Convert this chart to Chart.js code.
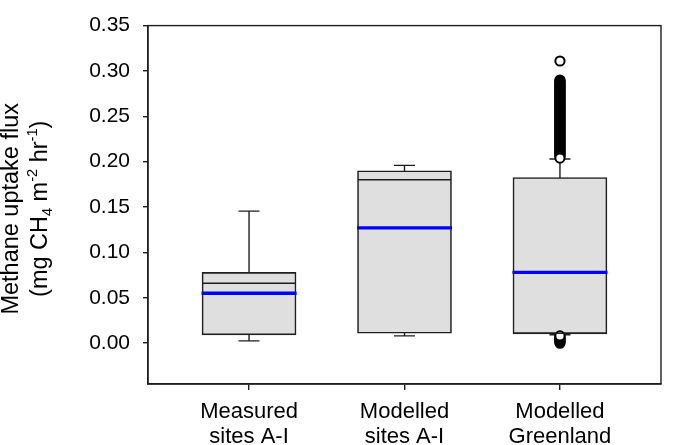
<!DOCTYPE html>
<html>
<head>
<meta charset="utf-8">
<script src="https://cdn.jsdelivr.net/npm/chart.js@4"></script>
<style>
  body { margin: 0; background: #fff; }
  canvas { display: block; }
</style>
</head>
<body>
<canvas id="chart" width="685" height="445"></canvas>
<script>
// Data
const categories = [['Measured', 'sites A-I'], ['Modelled', 'sites A-I'], ['Modelled', 'Greenland']]
const whiskerLow = [0.0025, 0.008, 0.0092]
const q1 = [0.0092, 0.011, 0.0103]
const median = [0.066, 0.180, 0.011]
const q3 = [0.078, 0.190, 0.1825]
const whiskerHigh = [0.1455, 0.196, 0.203]
const means = [0.055, 0.127, 0.078]
// outliers of the Greenland run (dense column above, short run below)
const outliersHigh = [0.311, 0.290, 0.289, 0.288, 0.287, 0.286, 0.285, 0.284, 0.283, 0.282, 0.281,
  0.280, 0.279, 0.278, 0.277, 0.276, 0.275, 0.274, 0.273, 0.272, 0.271, 0.270, 0.269, 0.268, 0.267,
  0.266, 0.265, 0.264, 0.263, 0.262, 0.261, 0.260, 0.259, 0.258, 0.257, 0.256, 0.255, 0.254, 0.253,
  0.252, 0.251, 0.250, 0.249, 0.248, 0.247, 0.246, 0.245, 0.244, 0.243, 0.242, 0.241, 0.240, 0.239,
  0.238, 0.237, 0.236, 0.235, 0.234, 0.233, 0.232, 0.231, 0.230, 0.229, 0.228, 0.227, 0.226, 0.225,
  0.224, 0.223, 0.222, 0.221, 0.220, 0.219, 0.218, 0.217, 0.216, 0.215, 0.214, 0.213, 0.212, 0.211,
  0.210, 0.209, 0.208, 0.207, 0.206, 0.204]
const outliersLow = [0.000, 0.001, 0.002, 0.003, 0.004, 0.005, 0.006, 0.007, 0.008]
const yTicks = [0.00, 0.05, 0.10, 0.15, 0.20, 0.25, 0.30, 0.35]

const lineColor = '#1e1e1e'
const fontFamily = '"Liberation Sans", Arial, sans-serif'

const outlierPoints = outliersHigh.concat(outliersLow).map(v => ({ x: 2, y: v }))

// whiskers behind the boxes, medians and means on top
const boxExtras = {
  id: 'boxExtras',
  beforeDatasetsDraw(chart) {
    const { ctx, scales: { x, y } } = chart
    ctx.save()
    ctx.strokeStyle = lineColor
    ctx.lineWidth = 1.4
    categories.forEach((c, i) => {
      const px = x.getPixelForValue(i)
      ctx.beginPath()
      ctx.moveTo(px, y.getPixelForValue(whiskerLow[i]))
      ctx.lineTo(px, y.getPixelForValue(whiskerHigh[i]))
      ;[whiskerLow[i], whiskerHigh[i]].forEach(v => {
        const py = y.getPixelForValue(v)
        ctx.moveTo(px - 10.5, py)
        ctx.lineTo(px + 10.5, py)
      })
      ctx.stroke()
    })
    ctx.restore()
  },
  afterDatasetsDraw(chart) {
    const { ctx, scales: { x, y } } = chart
    ctx.save()
    categories.forEach((c, i) => {
      const px = x.getPixelForValue(i)
      ctx.strokeStyle = lineColor
      ctx.lineWidth = 1.5
      ctx.beginPath()
      ctx.moveTo(px - 46.5, y.getPixelForValue(median[i]))
      ctx.lineTo(px + 46.5, y.getPixelForValue(median[i]))
      ctx.stroke()
      ctx.strokeStyle = '#0000ff'
      ctx.lineWidth = 3.3
      ctx.beginPath()
      ctx.moveTo(px - 47.5, y.getPixelForValue(means[i]))
      ctx.lineTo(px + 47.5, y.getPixelForValue(means[i]))
      ctx.stroke()
    })
    ctx.restore()
  },
  afterDraw(chart) {
    const { ctx, chartArea: a } = chart
    ctx.save()
    ctx.strokeStyle = lineColor
    ctx.lineWidth = 1.4
    ctx.strokeRect(a.left, a.top, a.right - a.left, a.bottom - a.top)
    ctx.restore()
  }
}

// rotated y title with sub/superscripts
function drawRich(ctx, parts, size, baseline) {
  const widths = parts.map(p => {
    ctx.font = `${p.s ? size * 0.62 : size}px ${fontFamily}`
    return ctx.measureText(p.t).width
  })
  let pos = -widths.reduce((a, b) => a + b, 0) / 2
  parts.forEach((p, k) => {
    ctx.font = `${p.s ? size * 0.62 : size}px ${fontFamily}`
    const shift = p.s === 'sub' ? size * 0.22 : p.s === 'sup' ? -size * 0.42 : 0
    ctx.fillText(p.t, pos, baseline + shift)
    pos += widths[k]
  })
}

const yTitle = {
  id: 'yTitle',
  afterDraw(chart) {
    const { ctx, chartArea: a } = chart
    ctx.save()
    ctx.fillStyle = '#000'
    ctx.textAlign = 'left'
    ctx.textBaseline = 'alphabetic'
    ctx.translate(0, (a.top + a.bottom) / 2 + 4)
    ctx.rotate(-Math.PI / 2)
    drawRich(ctx, [{ t: 'Methane uptake flux' }], 23.5, 18)
    drawRich(ctx, [
      { t: '(mg CH' }, { t: '4', s: 'sub' }, { t: ' m' }, { t: '-2', s: 'sup' },
      { t: ' hr' }, { t: '-1', s: 'sup' }, { t: ')' }
    ], 23.5, 47)
    ctx.restore()
  }
}

const ctx = document.getElementById('chart')
let myChart = new Chart(ctx, {
  type: 'bar',
  data: {
    datasets: [{
      type: 'bar',
      data: categories.map((c, i) => ({ x: i, y: [q1[i], q3[i]] })),
      backgroundColor: '#dfdfdf',
      borderColor: lineColor,
      borderWidth: 1.6,
      borderSkipped: false,
      barThickness: 94
    }, {
      type: 'scatter',
      data: outlierPoints,
      pointStyle: 'circle',
      pointRadius: 4.6,
      pointBackgroundColor: '#fff',
      pointBorderColor: '#000',
      pointBorderWidth: 2,
      order: -1
    }]
  },
  options: {
    responsive: false,
    animation: false,
    layout: { padding: { top: 10, right: 24, left: 0, bottom: 0 } },
    plugins: {
      legend: { display: false },
      tooltip: { enabled: false }
    },
    scales: {
      x: {
        type: 'linear',
        min: -0.65,
        max: 2.65,
        offset: false,
        afterBuildTicks: s => { s.ticks = categories.map((c, i) => ({ value: i })) },
        afterFit: s => { s.height = 61 },
        ticks: {
          callback: v => categories[v],
          autoSkip: false,
          maxRotation: 0,
          color: '#000',
          padding: 9,
          font: { family: fontFamily, size: 22, lineHeight: 1.15 }
        },
        grid: { offset: false, drawOnChartArea: false, drawTicks: true, tickLength: 6, color: lineColor, lineWidth: 1.4 },
        border: { display: true, color: lineColor, width: 1.4 }
      },
      y: {
        min: -0.045,
        max: 0.35,
        afterBuildTicks: s => { s.ticks = yTicks.map(v => ({ value: v })) },
        afterFit: s => { s.width = 148 },
        ticks: {
          callback: v => v.toFixed(2),
          color: '#000',
          padding: 13,
          font: { family: fontFamily, size: 21 }
        },
        grid: { drawOnChartArea: false, drawTicks: true, tickLength: 5, color: lineColor, lineWidth: 1.4 },
        border: { display: true, color: lineColor, width: 1.4 }
      }
    }
  },
  plugins: [boxExtras, yTitle]
})
</script>
</body>
</html>
